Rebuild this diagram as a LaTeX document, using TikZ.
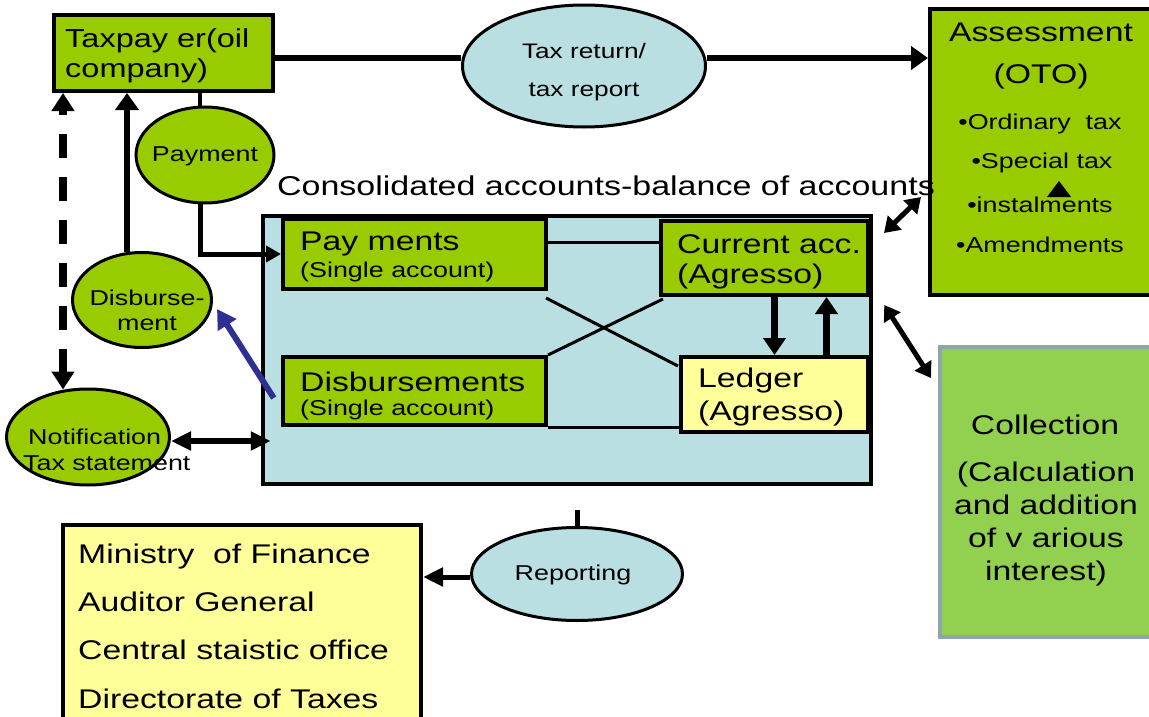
\documentclass[tikz,border=0pt]{standalone}
\usepackage{fontspec}
\setmainfont{Liberation Sans}[FakeStretch=1.25]
\usetikzlibrary{arrows.meta,shapes.geometric,calc}
\definecolor{boxgreen}{HTML}{99CC00}
\definecolor{acclight}{HTML}{B9DFE3}
\definecolor{paleyellow}{HTML}{FFFF99}
\definecolor{collgreen}{HTML}{92D050}
\definecolor{collframe}{HTML}{8DA6AA}
\definecolor{arrowblue}{HTML}{2E3192}
\begin{document}
\begin{tikzpicture}[x=1pt,y=-1pt,
  gbox/.style={draw=black,line width=4pt,fill=boxgreen,inner sep=0pt},
  oval/.style={draw=black,ellipse,line width=3pt,inner sep=0pt},
  txt/.style={inner sep=0pt,text=black},
  big/.style={font=\fontsize{27}{30}\selectfont},
  sml/.style={font=\fontsize{21.5}{24}\selectfont},
  conn/.style={draw=black,line width=6.5pt},
  thinline/.style={draw=black,line width=3pt},
  bighead/.style={-{Triangle[length=17pt,width=23pt]}},
  midhead/.style={-{Triangle[length=15pt,width=16pt]}},
  twoheads/.style={{Triangle[length=15pt,width=19pt]}-{Triangle[length=15pt,width=19pt]}},
]
\useasboundingbox (0,0) rectangle (1149,717);

% ---------- main boxes ----------
\node[gbox,minimum width=219pt,minimum height=76pt] (tp) at (163.5,53) {};
\node[txt,font=\fontsize{26}{30}\selectfont,anchor=west,align=left] (tptext) at ($(tp.west)+(13,3)$) {Taxpay er(oil\\company)};

\node[gbox,minimum width=224pt,minimum height=286pt] (assess) at (1042,152) {};
\node[txt,big] (as1) at (1041,32) {Assessment};
\node[txt,big] (as2) at (1041,77) {(OTO)};
\node[txt,sml] (as3) at (1040,124) {•Ordinary~ tax};
\node[txt,sml] (as4) at (1042,163) {•Special tax};
\node[txt,sml] (as5) at (1040,205) {•instalments};
\node[txt,sml] (as6) at (1040,245) {•Amendments};
\fill[black] (1047,197) -- (1071,197) -- (1059,181) -- cycle;

\node[draw=collframe,line width=4pt,fill=collgreen,inner sep=0pt,
      minimum width=214pt,minimum height=290pt] (coll) at (1047,492) {};
\node[txt,big] (colltitle) at (1045,425) {Collection};
\node[txt,font=\fontsize{27}{32.7}\selectfont,align=center] (colltext) at (1046,524)
  {(Calculation\\and addition\\of v arious\\interest)};

\node[txt,font=\fontsize{27.2}{30}\selectfont] (consol) at (606,186) {Consolidated accounts-balance of accounts};

% ---------- consolidated accounts ----------
\node[draw=black,line width=4.5pt,fill=acclight,inner sep=0pt,
      minimum width=608pt,minimum height=268pt] (acc) at (567,350) {};
\node[gbox,minimum width=263pt,minimum height=70pt] (pay) at (414.5,254) {};
\node[txt,big,anchor=west] (pay1) at (300,244) {Pay ments};
\node[txt,font=\fontsize{21.5}{24}\selectfont,anchor=west] (pay2) at (300,272) {(Single account)};

\node[gbox,minimum width=207pt,minimum height=74pt] (cur) at (764.5,258) {};
\node[txt,big,anchor=west] (cur1) at (677,244) {Current acc.};
\node[txt,big,anchor=west] (cur2) at (677,277) {(Agresso)};

\node[gbox,minimum width=263pt,minimum height=68pt] (disb) at (414.5,391) {};
\node[txt,big,anchor=west] (disb1) at (300,382) {Disbursements};
\node[txt,font=\fontsize{21.5}{24}\selectfont,anchor=west] (disb2) at (300,410) {(Single account)};

\node[draw=black,line width=4pt,fill=paleyellow,inner sep=0pt,
      minimum width=187pt,minimum height=75pt] (ledger) at (774.5,394.5) {};
\node[txt,big,anchor=west] (led1) at (698,381) {Ledger};
\node[txt,big,anchor=west] (led2) at (698,414) {(Agresso)};

% ---------- ellipses ----------
\node[oval,fill=acclight,minimum width=243pt,minimum height=122pt] (taxret) at (584,66) {};
\node[txt,align=center,font=\fontsize{21}{38}\selectfont] (taxrettext) at (584,72) {Tax return/\\tax report};

\node[oval,fill=boxgreen,minimum width=138pt,minimum height=96pt] (payment) at (205,155) {};
\node[txt,sml] (paymenttext) at (205,156) {Payment};

\node[oval,fill=boxgreen,minimum width=139pt,minimum height=95pt] (disbe) at (142,300) {};
\node[txt,align=center,font=\fontsize{21.5}{25}\selectfont] (disbetext) at (147,310) {Disburse-\\ment};

\node[oval,fill=boxgreen,minimum width=163pt,minimum height=96pt] (notif) at (88,437) {};
\node[txt,align=left,anchor=west,font=\fontsize{21.5}{26}\selectfont] (notiftext) at (23,450) {\hspace*{5pt}Notification\\Tax statement};

\node[oval,fill=acclight,minimum width=211pt,minimum height=93pt] (report) at (577,574) {};
\node[txt,sml] (reporttext) at (573,575) {Reporting};

% ---------- recipients ----------
\node[draw=black,line width=4pt,fill=paleyellow,inner sep=0pt,
      minimum width=358pt,minimum height=215pt] (orgs) at (242,632.5) {};
\node[txt,anchor=west,align=left,font=\fontsize{27}{48.3}\selectfont] (orgtext) at (78,626)
  {Ministry~ of Finance\\Auditor General\\Central staistic office\\Directorate of Taxes};

% ---------- connectors ----------
\coordinate (trow) at ($(tp.east)+(0,5)$);
\draw[conn] (trow) -- (trow -| taxret.west);
\draw[conn,bighead] (trow -| taxret.east) -- (trow -| assess.west);

\coordinate (pn) at ($(payment.north)+(-5,1)$);
\draw[draw=black,line width=4pt] (pn) -- (pn |- tp.south);
\coordinate (ps) at ($(payment.south)+(-5,-1)$);
\draw[draw=black,line width=5pt,midhead] (ps) |- (pay.west);

\coordinate (dn) at ($(disbe.north)+(-15,1)$);
\draw[conn,bighead] (dn) -- (dn |- tp.south);

\coordinate (nn) at ($(notif.north)+(-25,2)$);
\draw[draw=black,line width=7.5pt,dash pattern=on 24pt off 19pt,
      {Triangle[length=18pt,width=22pt]}-{Triangle[length=18pt,width=22pt]}] (nn) -- (nn |- tp.south);

\coordinate (ne) at ($(notif.east)+(0,4)$);
\draw[draw=black,line width=6pt,
      {Triangle[length=20pt,width=18pt]}-{Triangle[length=20pt,width=18pt]}] (ne) -- ($(ne -| acc.west)+(10,0)$);

\draw[draw=arrowblue,line width=6pt,-{Triangle[length=19pt,width=21pt]}]
  ($(acc.west)+(13,48)$) -- ($(disbe.center)+(75,9)$);

\draw[draw=black,line width=5pt,twoheads] ($(cur.north east)+(14,14)$) -- ($(assess.west)+(-7,45)$);
\draw[draw=black,line width=5pt,twoheads] ($(acc.east)+(11,-45)$) -- ($(coll.north west)+(-7,33)$);

\coordinate (pc) at ($(pay.north east)+(0,25)$);
\draw[thinline] (pc) -- (pc -| cur.west);
\draw[thinline] ($(pay.south east)+(-2,7)$) -- ($(ledger.north west)+(-1,11)$);
\draw[thinline] (disb.north east) -- ($(cur.south west)+(4,2)$);
\draw[thinline] (disb.south east) -- (disb.south east -| ledger.west);

\draw[draw=black,line width=7pt,-{Triangle[length=17pt,width=22pt]}] (cur.south -| ledger.north) -- (ledger.north);
\coordinate (lu) at ($(ledger.north)+(52,0)$);
\draw[draw=black,line width=7pt,-{Triangle[length=17pt,width=22pt]}] (lu) -- (lu |- cur.south);

\coordinate (rt) at (577,510);
\draw[draw=black,line width=5pt] (rt) -- (report.north);
\coordinate (rw) at ($(report.west)+(0,3)$);
\draw[draw=black,line width=5pt,-{Triangle[length=20pt,width=18pt]}] (rw) -- (rw -| orgs.east);
\end{tikzpicture}
\end{document}
